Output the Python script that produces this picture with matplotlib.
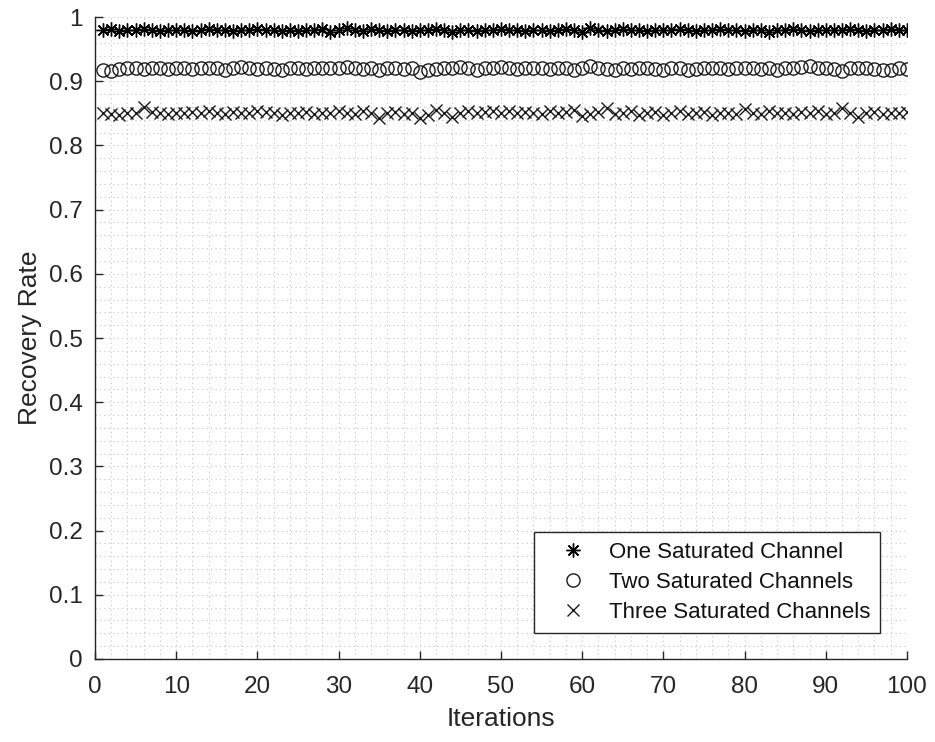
import matplotlib
matplotlib.use("Agg")
import matplotlib.pyplot as plt
from matplotlib.ticker import MultipleLocator, FuncFormatter

iterations = list(range(1, 101))

one_sat = [
    0.980, 0.981, 0.979, 0.980, 0.980, 0.981, 0.980, 0.979, 0.980, 0.980,
    0.980, 0.979, 0.980, 0.981, 0.980, 0.980, 0.979, 0.980, 0.980, 0.981,
    0.980, 0.980, 0.979, 0.980, 0.978, 0.980, 0.980, 0.981, 0.977, 0.980,
    0.983, 0.980, 0.978, 0.982, 0.980, 0.979, 0.980, 0.980, 0.979, 0.980,
    0.980, 0.981, 0.980, 0.977, 0.980, 0.980, 0.979, 0.980, 0.980, 0.981,
    0.980, 0.980, 0.979, 0.980, 0.980, 0.978, 0.980, 0.981, 0.980, 0.976,
    0.983, 0.980, 0.979, 0.980, 0.981, 0.980, 0.980, 0.979, 0.980, 0.980,
    0.980, 0.981, 0.980, 0.979, 0.980, 0.980, 0.981, 0.980, 0.980, 0.979,
    0.980, 0.980, 0.977, 0.980, 0.980, 0.981, 0.980, 0.979, 0.980, 0.980,
    0.980, 0.980, 0.981, 0.980, 0.979, 0.980, 0.980, 0.981, 0.980, 0.980]

two_sat = [
    0.917, 0.916, 0.919, 0.921, 0.920, 0.919, 0.921, 0.920, 0.919, 0.920,
    0.921, 0.919, 0.920, 0.920, 0.921, 0.918, 0.920, 0.922, 0.921, 0.919,
    0.920, 0.919, 0.918, 0.920, 0.921, 0.919, 0.920, 0.921, 0.920, 0.921,
    0.922, 0.920, 0.919, 0.920, 0.918, 0.920, 0.921, 0.919, 0.920, 0.915,
    0.917, 0.919, 0.920, 0.921, 0.922, 0.920, 0.917, 0.920, 0.921, 0.922,
    0.921, 0.919, 0.920, 0.921, 0.920, 0.919, 0.921, 0.920, 0.917, 0.921,
    0.923, 0.921, 0.919, 0.917, 0.920, 0.919, 0.920, 0.921, 0.919, 0.918,
    0.920, 0.921, 0.918, 0.919, 0.920, 0.921, 0.920, 0.919, 0.920, 0.921,
    0.920, 0.919, 0.920, 0.918, 0.920, 0.921, 0.922, 0.923, 0.921, 0.920,
    0.919, 0.916, 0.920, 0.921, 0.920, 0.919, 0.917, 0.918, 0.920, 0.919]

three_sat = [
    0.851, 0.849, 0.848, 0.851, 0.850, 0.860, 0.852, 0.850, 0.849, 0.851,
    0.850, 0.852, 0.851, 0.853, 0.850, 0.849, 0.852, 0.850, 0.851, 0.853,
    0.852, 0.850, 0.848, 0.851, 0.850, 0.852, 0.849, 0.851, 0.850, 0.853,
    0.851, 0.849, 0.853, 0.850, 0.843, 0.851, 0.852, 0.849, 0.851, 0.842,
    0.848, 0.856, 0.850, 0.845, 0.851, 0.853, 0.850, 0.852, 0.854, 0.851,
    0.853, 0.850, 0.852, 0.851, 0.849, 0.853, 0.850, 0.852, 0.855, 0.846,
    0.849, 0.852, 0.858, 0.849, 0.851, 0.853, 0.848, 0.850, 0.852, 0.847,
    0.850, 0.853, 0.849, 0.851, 0.852, 0.848, 0.851, 0.850, 0.849, 0.857,
    0.851, 0.849, 0.853, 0.850, 0.851, 0.849, 0.852, 0.850, 0.853, 0.849,
    0.850, 0.859, 0.851, 0.844, 0.850, 0.852, 0.849, 0.851, 0.850, 0.852]

labels = ["One Saturated Channel", "Two Saturated Channels", "Three Saturated Channels"]

plt.rcParams['font.family'] = ['Liberation Sans', 'DejaVu Sans']
axcol = '#262626'

fig = plt.figure(figsize=(9.35, 7.42), dpi=100)
ax = fig.add_axes([0.1016, 0.1119, 0.8684, 0.8651])

ax.plot(iterations, one_sat, linestyle='none', marker=(8, 2, 0), markersize=10,
        markeredgewidth=1.0, color='black', label=labels[0])
ax.plot(iterations, two_sat, linestyle='none', marker='o', markersize=9.5,
        markeredgewidth=1.0, markerfacecolor='none', markeredgecolor='#1a1a1a', label=labels[1])
ax.plot(iterations, three_sat, linestyle='none', marker='x', markersize=9,
        markeredgewidth=1.0, color='#1a1a1a', label=labels[2])

ax.set_xlim(0, 100)
ax.set_ylim(0, 1)
ax.xaxis.set_major_locator(MultipleLocator(10))
ax.yaxis.set_major_locator(MultipleLocator(0.1))
ax.xaxis.set_minor_locator(MultipleLocator(2))
ax.yaxis.set_minor_locator(MultipleLocator(0.02))
ax.yaxis.set_major_formatter(FuncFormatter(lambda v, p: f'{v:g}'))

ax.grid(which='both', linestyle=(0, (1, 3)), linewidth=0.8, color='#c4c4c4')
ax.set_axisbelow(True)

for s in ['top', 'right']:
    ax.spines[s].set_visible(False)
for s in ['left', 'bottom']:
    ax.spines[s].set_color(axcol)
    ax.spines[s].set_linewidth(1.0)

ax.tick_params(which='major', direction='in', length=6, width=1.0, colors=axcol,
               labelsize=17.5)
ax.tick_params(axis='x', which='major', pad=12)
ax.tick_params(axis='y', which='major', pad=9)
ax.tick_params(which='minor', length=0)

ax.set_xlabel('Iterations', fontsize=19, color=axcol, labelpad=7)
ax.set_ylabel('Recovery Rate', fontsize=19, color=axcol, labelpad=5)

leg = ax.legend(loc='lower right', bbox_to_anchor=(0.967, 0.0405), fontsize=16,
                frameon=True, fancybox=False, framealpha=1, edgecolor=axcol,
                handlelength=2.6, handletextpad=0.3, borderpad=0.45, labelspacing=0.4,
                borderaxespad=0)
leg.get_frame().set_linewidth(1.0)
for t in leg.get_texts():
    t.set_color('#111111')

fig.savefig('out.png', dpi=100)
